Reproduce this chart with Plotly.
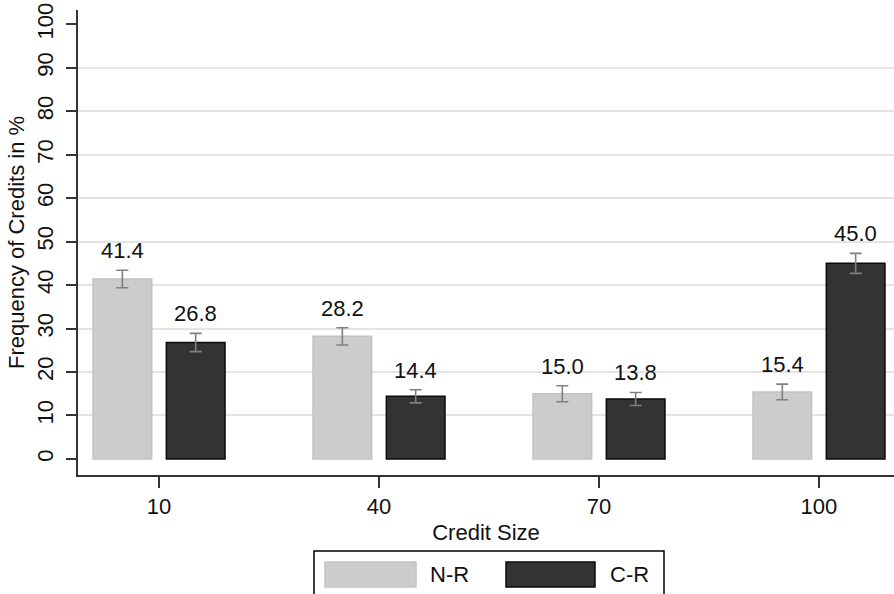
import plotly.graph_objects as go

# Credit sizes and share of credits (%) by treatment
credit_sizes = [10, 40, 70, 100]
size_labels = ["10", "40", "70", "100"]
nr_values = [41.4, 28.2, 15.0, 15.4]
cr_values = [26.8, 14.4, 13.8, 45.0]
nr_err = [2.0, 2.0, 1.85, 1.8]
cr_err = [2.1, 1.5, 1.5, 2.3]
series_names = ["N-R", "C-R"]
y_ticks = [0, 10, 20, 30, 40, 50, 60, 70, 80, 90, 100]
grid_ticks = [10, 20, 30, 40, 50, 60, 70, 80, 90]

W, H = 894, 594
ML, MR, MT, MB = 78, 0, 10, 119
FONT = "Liberation Sans, Arial, sans-serif"
FS = 22
TXT = "#111111"

fills = ["#cccccc", "#333333"]
edges = ["#c2c2c2", "#0a0a0a"]

fig = go.Figure()
for i, (name, vals, errs) in enumerate(zip(series_names, [nr_values, cr_values], [nr_err, cr_err])):
    fig.add_trace(go.Bar(
        x=credit_sizes, y=vals, name=name,
        offset=-9 if i == 0 else 1, width=8,
        marker=dict(color=fills[i], line=dict(color=edges[i], width=1.5)),
        error_y=dict(type="data", array=errs, visible=True,
                     color="#808080", thickness=1.6, width=6),
        showlegend=False,
    ))
    for c, v, e in zip(credit_sizes, vals, errs):
        fig.add_annotation(
            x=c - 5 if i == 0 else c + 5, y=v + e, text=f"{v:.1f}",
            showarrow=False, yanchor="bottom", yshift=5,
            font=dict(family=FONT, size=FS, color=TXT),
        )

# pixel -> paper helpers for the boxed legend under the axis
pw, ph = W - ML - MR, H - MT - MB
def px(x):
    return (x - ML) / pw
def py(y):
    return (H - MB - y) / ph

fig.add_shape(type="rect", xref="paper", yref="paper",
              x0=px(314), x1=px(664), y0=py(610), y1=py(551),
              line=dict(color="#000000", width=1.5), fillcolor="white")
swatch_x = [(325, 416), (506, 595)]
label_x = [428, 608]
for i, name in enumerate(series_names):
    fig.add_shape(type="rect", xref="paper", yref="paper",
                  x0=px(swatch_x[i][0]), x1=px(swatch_x[i][1]),
                  y0=py(587), y1=py(562),
                  line=dict(color=edges[i], width=1.5), fillcolor=fills[i])
    fig.add_annotation(xref="paper", yref="paper", x=px(label_x[i]), y=py(574.5),
                       text=name, showarrow=False, xanchor="left", yanchor="middle",
                       font=dict(family=FONT, size=FS, color=TXT))

fig.update_layout(
    width=W, height=H,
    margin=dict(l=ML, r=MR, t=MT, b=MB, pad=0),
    paper_bgcolor="white", plot_bgcolor="white",
    font=dict(family=FONT, size=FS, color=TXT),
    barmode="overlay",
    xaxis=dict(
        range=[-1.05, 110.23], tickvals=credit_sizes, ticktext=size_labels,
        showgrid=False, zeroline=False,
        showline=True, linecolor="#333333", linewidth=2,
        ticks="outside", ticklen=11, tickwidth=1.5, tickcolor="#333333",
        title=dict(text="Credit Size", standoff=6, font=dict(size=FS)),
        tickfont=dict(size=FS),
    ),
    yaxis=dict(
        range=[-3.7, 103.3], tickvals=y_ticks, tickangle=-90,
        showgrid=False, zeroline=False,
        minor=dict(tickvals=grid_ticks, showgrid=True, gridcolor="#e4e4e4",
                   gridwidth=1.5, ticks=""),
        showline=True, linecolor="#333333", linewidth=2,
        ticks="outside", ticklen=10, tickwidth=1.5, tickcolor="#333333",
        ticklabelstandoff=4,
        title=dict(text="Frequency of Credits in %", standoff=3, font=dict(size=FS)),
        tickfont=dict(size=FS),
    ),
)

fig.write_html("out.html")
